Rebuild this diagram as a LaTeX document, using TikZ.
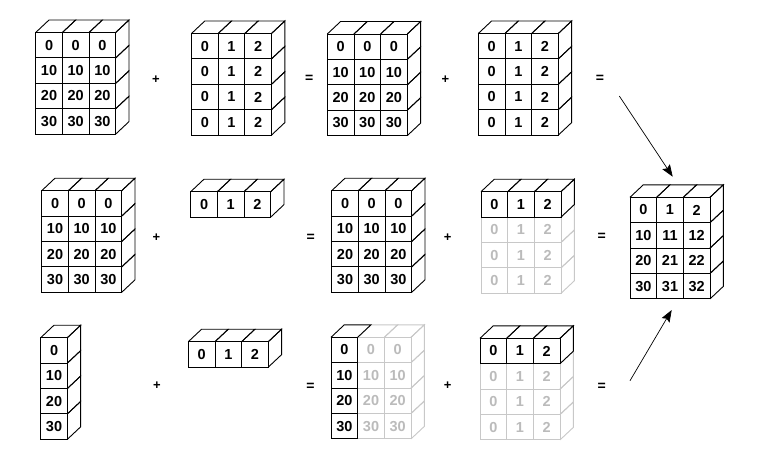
\documentclass[tikz,border=0pt]{standalone}
\usepackage{fontspec}
\setmainfont{Liberation Sans}
\usetikzlibrary{arrows.meta}
\definecolor{greyline}{HTML}{C8C8C8}
\definecolor{greytext}{HTML}{BBBBBB}
\def\cw{26.67}
\def\ch{25.4}
\def\dx{13.3}
\def\dy{12.5}
\tikzset{
  cellline/.style={line width=0.9pt, line join=miter},
  celltext/.style={font=\fontsize{14.5}{16}\selectfont\bfseries, inner sep=0pt},
  plustext/.style={font=\fontsize{13}{15}\selectfont\bfseries, inner sep=0pt},
  eqtext/.style={font=\fontsize{14}{16}\selectfont\bfseries, inner sep=0pt},
  arrowline/.style={line width=0.7pt, -{Stealth[length=12pt,width=9pt,inset=2pt]}}
}
% #1 name, #2 x, #3 y, #4 rows, #5 cols, #6 data, #7 mode (0 all black, 1 grey below first row, 2 grey right of first column)
\newcommand\blk[7]{%
  \foreach \pass in {1,0}{%
    \foreach \rowdata [count=\r from 0] in {#6}{%
      \foreach \v [count=\c from 0] in \rowdata {%
        \pgfmathtruncatemacro\isg{((#7==1 && \r>0) || (#7==2 && \c>0)) ? 1 : 0}%
        \ifnum\isg=\pass\relax
          \ifnum\isg=1 \def\lc{greyline}\def\tc{greytext}\else\def\lc{black}\def\tc{black}\fi
          \pgfmathsetmacro\xl{#2+\c*\cw}%
          \pgfmathsetmacro\yt{#3+\r*\ch}%
          \draw[cellline, draw=\lc] (\xl,\yt) rectangle ++(\cw,\ch);
          \ifnum\r=0
            \draw[cellline, draw=\lc] (\xl,\yt) -- ++(\dx,-\dy) -- ++(\cw,0) -- ++(-\dx,\dy);
          \fi
          \pgfmathtruncatemacro\lastc{#5-1}%
          \ifnum\c=\lastc
            \draw[cellline, draw=\lc] (\xl+\cw,\yt) -- ++(\dx,-\dy) -- ++(0,\ch) -- ++(-\dx,\dy);
          \fi
          \node[celltext, text=\tc] (#1-\r-\c) at (\xl+\cw/2,\yt+\ch/2) {\v};
        \fi
      }%
    }%
  }%
}
\def\tens{{0,0,0},{10,10,10},{20,20,20},{30,30,30}}
\def\ones{{0,1,2},{0,1,2},{0,1,2},{0,1,2}}
\begin{document}
\begin{tikzpicture}[x=1pt,y=-1pt]
\useasboundingbox[fill=white] (0,0) rectangle (760,466);
% row 1
\edef\tmp{\noexpand\blk{a}{35.7}{32.5}{4}{3}{\tens}{0}}\tmp
\edef\tmp{\noexpand\blk{b}{191.5}{33.5}{4}{3}{\ones}{0}}\tmp
\edef\tmp{\noexpand\blk{c}{327.3}{34}{4}{3}{\tens}{0}}\tmp
\edef\tmp{\noexpand\blk{d}{478.3}{33.5}{4}{3}{\ones}{0}}\tmp
% row 2
\edef\tmp{\noexpand\blk{e}{41.7}{190.7}{4}{3}{\tens}{0}}\tmp
\blk{f}{190.7}{191.7}{1}{3}{{0,1,2}}{0}
\edef\tmp{\noexpand\blk{g}{331.7}{190.7}{4}{3}{\tens}{0}}\tmp
\edef\tmp{\noexpand\blk{h}{481}{191.7}{4}{3}{\ones}{1}}\tmp
% result
\blk{r}{630}{197.3}{4}{3}{{0,1,2},{10,11,12},{20,21,22},{30,31,32}}{0}
% row 3
\blk{i}{40.7}{337.7}{4}{1}{{0},{10},{20},{30}}{0}
\blk{j}{188.3}{341.7}{1}{3}{{0,1,2}}{0}
\edef\tmp{\noexpand\blk{k}{331}{337.3}{4}{3}{\tens}{2}}\tmp
\edef\tmp{\noexpand\blk{l}{480}{338.3}{4}{3}{\ones}{1}}\tmp
% operators
\node[plustext] (p1) at (156,79.3) {+};
\node[eqtext] (q1) at (309.3,79.3) {=};
\node[plustext] (p2) at (445.5,80) {+};
\node[eqtext] (q2) at (600,79) {=};
\node[plustext] (p3) at (156.5,238) {+};
\node[eqtext] (q3) at (310.7,238) {=};
\node[plustext] (p4) at (447.7,238) {+};
\node[eqtext] (q4) at (601.7,237) {=};
\node[plustext] (p5) at (157,386) {+};
\node[eqtext] (q5) at (310.5,387) {=};
\node[plustext] (p6) at (447.7,386) {+};
\node[eqtext] (q6) at (601.7,387) {=};
% arrows
\coordinate (a1s) at (619.3,96);
\coordinate (a1e) at (672.7,176.7);
\coordinate (a2s) at (630,380.7);
\coordinate (a2e) at (671.7,310);
\draw[arrowline] (a1s) -- (a1e);
\draw[arrowline] (a2s) -- (a2e);
\end{tikzpicture}
\end{document}
